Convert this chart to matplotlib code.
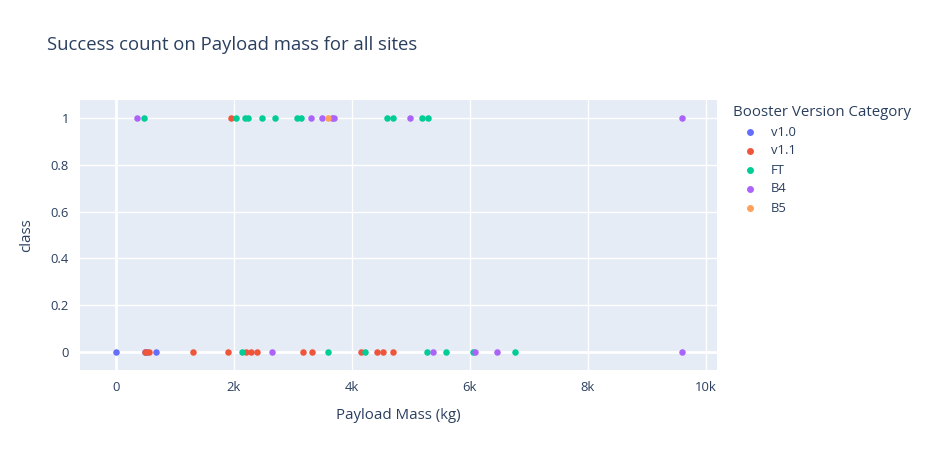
import matplotlib.pyplot as plt
from matplotlib.lines import Line2D
from matplotlib.ticker import FuncFormatter

# 数据：按助推器版本分组 (payload kg, class)
v10_mass = [0, 500, 525, 677]
v10_class = [0, 0, 0, 0]

v11_mass = [500, 570, 1316, 1898, 1952, 2216, 2296, 2395, 3170, 3325, 4159, 4428, 4535, 4707]
v11_class = [0, 0, 0, 0, 1, 0, 0, 0, 0, 0, 0, 0, 0, 0]

ft_mass = [475, 2034, 2192, 2248, 2485, 2705, 3078, 3136, 4603, 4694, 5197, 5299,
           2146, 3598, 4231, 5271, 5603, 6061, 6763]
ft_class = [1, 1, 1, 1, 1, 1, 1, 1, 1, 1, 1, 1,
            0, 0, 0, 0, 0, 0, 0]

b4_mass = [362, 3305, 3502, 3671, 3705, 4988, 9600, 2644, 5383, 6090, 6463, 9600]
b4_class = [1, 1, 1, 1, 1, 1, 1, 0, 0, 0, 0, 0]

b5_mass = [3604]
b5_class = [1]

categories = ['v1.0', 'v1.1', 'FT', 'B4', 'B5']
colors = ['#636efa', '#EF553B', '#00cc96', '#ab63fa', '#FFA15A']
series = [(v10_mass, v10_class), (v11_mass, v11_class), (ft_mass, ft_class),
          (b4_mass, b4_class), (b5_mass, b5_class)]

TEXT = '#2a3f5f'
plt.rcParams['font.family'] = ['Open Sans', 'DejaVu Sans']

fig = plt.figure(figsize=(9.27, 4.5), dpi=100)
ax = fig.add_axes([80 / 927, 1 - 370 / 450, 637 / 927, 270 / 450])
ax.set_facecolor('#E5ECF6')

for (m, c), col in zip(series, colors):
    ax.scatter(m, c, s=22, color=col, linewidths=0, zorder=3)

ax.set_xlim(-605, 10190)
ax.set_ylim(-0.075, 1.075)
ax.set_xticks([0, 2000, 4000, 6000, 8000, 10000])
ax.xaxis.set_major_formatter(FuncFormatter(lambda v, p: '0' if v == 0 else f'{int(v / 1000)}k'))
ax.set_yticks([0, 0.2, 0.4, 0.6, 0.8, 1])
ax.yaxis.set_major_formatter(FuncFormatter(lambda v, p: f'{v:g}'))
ax.grid(True, color='white', linewidth=1)
ax.set_axisbelow(True)
# 零线加粗
for zero_line in [ax.get_xgridlines()[0], ax.get_ygridlines()[0]]:
    zero_line.set_linewidth(2)
for s in ax.spines.values():
    s.set_visible(False)
ax.tick_params(length=0, labelsize=9.4, colors=TEXT, pad=8)

ax.set_xlabel('Payload Mass (kg)', fontsize=10.8, color=TEXT, labelpad=10)
ax.set_ylabel('class', fontsize=10.8, color=TEXT, labelpad=12)

fig.text(47 / 927, 1 - 45 / 450, 'Success count on Payload mass for all sites',
         fontsize=13.3, color=TEXT, va='center', ha='left')

# 图例
fig.text(733 / 927, 1 - 113 / 450, 'Booster Version Category', fontsize=10.8,
         color=TEXT, va='center', ha='left')
for i, (name, col) in enumerate(zip(categories, colors)):
    yy = 1 - (132 + 19 * i) / 450
    fig.add_artist(Line2D([750 / 927], [yy], marker='o', markersize=5, color=col,
                          markeredgewidth=0, linestyle='none', transform=fig.transFigure))
    fig.text(771 / 927, yy, name, fontsize=9.4, color=TEXT, va='center', ha='left')

plt.savefig('out.png', dpi=100)
